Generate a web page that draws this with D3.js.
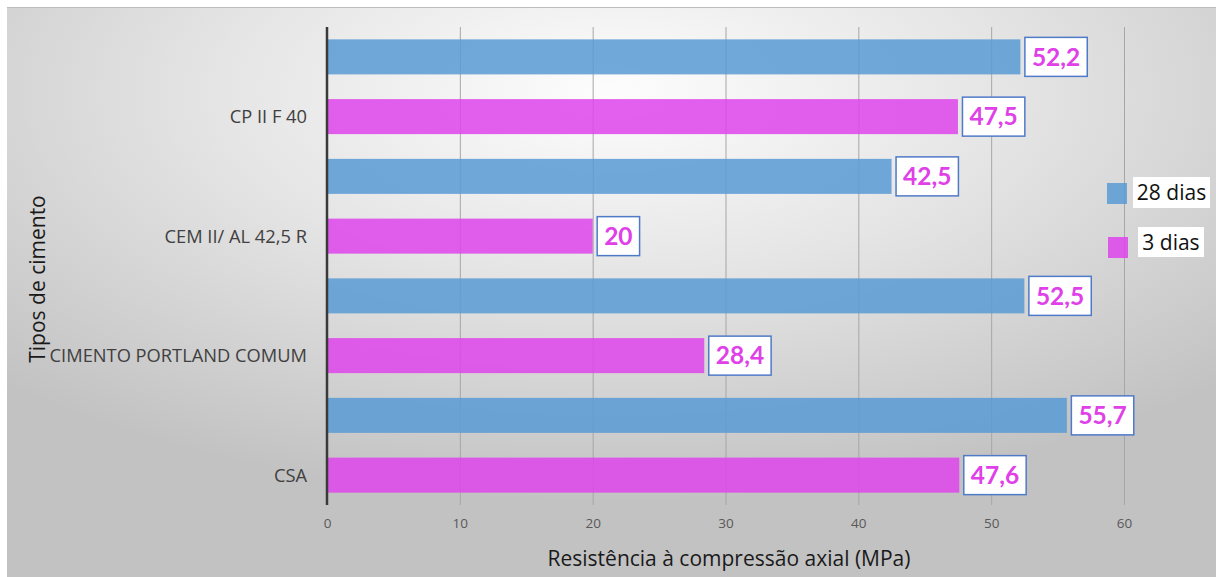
<!DOCTYPE html>
<html>
<head>
<meta charset="utf-8">
<script src="https://cdn.jsdelivr.net/npm/d3@7"></script>
<style>
  html, body { margin: 0; padding: 0; background: #ffffff; }
  svg { display: block; }
</style>
</head>
<body>
<svg id="chart" width="1216" height="577"></svg>
<script>
// Cement types (top to bottom) and compressive strength at 28 and 3 days (MPa)
const categories = ["CP II F 40", "CEM II/ AL 42,5 R", "CIMENTO PORTLAND COMUM", "CSA"];
const seriesNames = ["28 dias", "3 dias"];
const values28 = [52.2, 42.5, 52.5, 55.7];
const values3 = [47.5, 20, 28.4, 47.6];
const xTicks = [0, 10, 20, 30, 40, 50, 60];
const xTitle = "Resistência à compressão axial (MPa)";
const yTitle = "Tipos de cimento";

const seriesColors = { "28 dias": "#5b9bd5", "3 dias": "#de45eb" };

const svg = d3.select("#chart");
const W = 1216, H = 577;

// Chart area background with soft radial shading
const defs = svg.append("defs");
const grad = defs.append("radialGradient")
  .attr("id", "bg")
  .attr("cx", 0.5).attr("cy", 0.15).attr("r", 0.72)
  .attr("fx", 0.5).attr("fy", 0.15);
grad.append("stop").attr("offset", 0).attr("stop-color", "#fdfdfd");
grad.append("stop").attr("offset", 0.45).attr("stop-color", "#e5e5e5");
grad.append("stop").attr("offset", 1).attr("stop-color", "#c2c2c2");

svg.append("rect")
  .attr("x", 7).attr("y", 7).attr("width", W - 7).attr("height", H - 7)
  .attr("fill", "url(#bg)");
svg.append("line")
  .attr("x1", 7).attr("x2", W).attr("y1", 7.5).attr("y2", 7.5)
  .attr("stroke", "#bdbdbd").attr("stroke-width", 1);

const plot = { left: 327, right: 1124, top: 27, bottom: 505 };

const x = d3.scaleLinear().domain([0, 60]).range([plot.left, plot.right]);
const y0 = d3.scaleBand().domain(categories).range([plot.top, plot.bottom]).padding(0);
const y1 = d3.scaleBand().domain(seriesNames).range([0, y0.bandwidth()])
  .paddingInner(0.414).paddingOuter(0.207);

const rows = categories.flatMap((c, i) => [
  { cat: c, series: "28 dias", value: values28[i] },
  { cat: c, series: "3 dias", value: values3[i] }
]);

// Vertical gridlines
svg.append("g")
  .selectAll("line")
  .data(xTicks.filter(t => t > 0))
  .join("line")
  .attr("x1", d => x(d) + 0.5).attr("x2", d => x(d) + 0.5)
  .attr("y1", plot.top).attr("y2", plot.bottom)
  .attr("stroke", "#a6a6a6").attr("stroke-width", 1);

// X axis tick labels
const xAxis = d3.axisBottom(x).tickValues(xTicks).tickSize(0).tickPadding(0).tickFormat(d3.format("d"));
const gx = svg.append("g").attr("transform", `translate(0, ${plot.bottom + 13})`).call(xAxis);
gx.select(".domain").remove();
gx.selectAll("text")
  .attr("font-family", "Open Sans, sans-serif")
  .attr("font-size", 13.5)
  .attr("fill", "#595959");

// Bars
svg.append("g")
  .selectAll("rect")
  .data(rows)
  .join("rect")
  .attr("x", x(0))
  .attr("y", d => y0(d.cat) + y1(d.series))
  .attr("width", d => x(d.value) - x(0))
  .attr("height", y1.bandwidth())
  .attr("fill", d => seriesColors[d.series])
  .attr("fill-opacity", 0.86);

// Vertical category axis line
svg.append("line")
  .attr("x1", x(0)).attr("x2", x(0))
  .attr("y1", plot.top).attr("y2", plot.bottom)
  .attr("stroke", "#3a3a3a").attr("stroke-width", 2.5);

// Category labels, aligned with the 3-day bar of each group
svg.append("g")
  .selectAll("text")
  .data(categories)
  .join("text")
  .attr("x", x(0) - 20)
  .attr("y", d => y0(d) + y1("3 dias") + y1.bandwidth() / 2)
  .attr("dy", "0.35em")
  .attr("text-anchor", "end")
  .attr("font-family", "Open Sans, sans-serif")
  .attr("font-size", 18.3)
  .attr("fill", "#404040")
  .text(d => d);

// Value labels in boxed callouts
const fmt = v => String(v).replace(".", ",");
const lab = svg.append("g").selectAll("g").data(rows).join("g");
lab.each(function(d) {
  const g = d3.select(this);
  const cy = y0(d.cat) + y1(d.series) + y1.bandwidth() / 2;
  const bx = x(d.value) + 4.5;
  const rect = g.append("rect");
  const t = g.append("text")
    .attr("x", bx + 7)
    .attr("y", cy)
    .attr("dy", "0.36em")
    .attr("font-family", "Lato, sans-serif")
    .attr("font-weight", "bold")
    .attr("font-size", 24.5)
    .attr("fill", "#e040e8")
    .text(fmt(d.value));
  const w = t.node().getComputedTextLength();
  rect.attr("x", bx).attr("y", cy - 19.5)
    .attr("width", w + 14).attr("height", 39)
    .attr("fill", "#ffffff")
    .attr("stroke", "#4f7ac8").attr("stroke-width", 1.5);
});

// Legend
const legend = [
  { name: "28 dias", sx: 1107, sy: 183, bx: 1133, by: 177, bw: 77, bh: 31 },
  { name: "3 dias", sx: 1108, sy: 237, bx: 1138, by: 227, bw: 66, bh: 30 }
];
const lg = svg.append("g").selectAll("g").data(legend).join("g");
lg.append("rect")
  .attr("x", d => d.sx).attr("y", d => d.sy)
  .attr("width", 20).attr("height", 21)
  .attr("fill", d => seriesColors[d.name]).attr("fill-opacity", 0.86);
lg.append("rect")
  .attr("x", d => d.bx).attr("y", d => d.by)
  .attr("width", d => d.bw).attr("height", d => d.bh)
  .attr("fill", "#ffffff");
lg.append("text")
  .attr("x", d => d.bx + d.bw / 2)
  .attr("y", d => d.by + d.bh / 2)
  .attr("dy", "0.36em")
  .attr("text-anchor", "middle")
  .attr("font-family", "Open Sans, sans-serif")
  .attr("font-size", 21)
  .attr("fill", "#111111")
  .text(d => d.name);

// Axis titles
svg.append("text")
  .attr("x", 729).attr("y", 566)
  .attr("text-anchor", "middle")
  .attr("font-family", "Open Sans, sans-serif")
  .attr("font-size", 21)
  .attr("fill", "#1a1a1a")
  .text(xTitle);

svg.append("text")
  .attr("transform", "translate(45, 279) rotate(-90)")
  .attr("text-anchor", "middle")
  .attr("font-family", "Open Sans, sans-serif")
  .attr("font-size", 21)
  .attr("fill", "#1a1a1a")
  .text(yTitle);
</script>
</body>
</html>
